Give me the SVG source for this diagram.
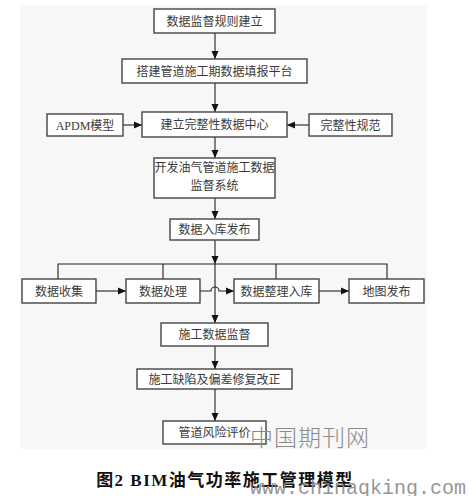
<svg xmlns="http://www.w3.org/2000/svg" width="476" height="496" viewBox="0 0 476 496">
<defs>
<marker id="ah" markerUnits="userSpaceOnUse" markerWidth="8" markerHeight="8" viewBox="0 0 8 8" refX="8" refY="4" orient="auto">
<path d="M0,0.5 L8,4 L0,7.5 Z" fill="#111"/>
</marker>
<style>
.box{fill:#fff;stroke:#444;stroke-width:1.4}
.t{font-family:"Liberation Serif","Noto Sans CJK SC",serif;font-size:12px;fill:#3a3a3a;text-anchor:middle}
.ln{fill:none;stroke:#222;stroke-width:1.1}
.arr{fill:none;stroke:#222;stroke-width:1.1;marker-end:url(#ah)}
</style>
</defs>
<rect x="0" y="0" width="476" height="496" fill="#fff"/>
<rect x="20" y="5" width="407" height="444" fill="#f7f7f7"/>
<g id="connectors">
<line class="arr" x1="215" y1="33" x2="215" y2="59"/>
<line class="arr" x1="215" y1="83" x2="215" y2="112"/>
<line class="arr" x1="123" y1="125" x2="142" y2="125"/>
<line class="arr" x1="309" y1="125" x2="287" y2="125"/>
<line class="arr" x1="215" y1="137" x2="215" y2="158"/>
<line class="arr" x1="215" y1="198" x2="215" y2="219"/>
<line class="arr" x1="215" y1="240" x2="215" y2="264"/>
<path class="ln" d="M58,279 V264 H387 V279 M163,264 V279 M276,264 V279"/>
<line class="arr" x1="215" y1="264" x2="215" y2="323"/>
<line class="arr" x1="96" y1="291" x2="126" y2="291"/>
<path class="arr" d="M200,291 H211 A4,4 0 0 1 219,291 H234"/>
<line class="arr" x1="319" y1="291" x2="349" y2="291"/>
<line class="arr" x1="215" y1="346" x2="215" y2="369"/>
<line class="arr" x1="215" y1="389" x2="215" y2="421"/>
</g>
<g id="n1"><rect class="box" x="154" y="9" width="121" height="24"/><text class="t" x="214.5" y="25.5">数据监督规则建立</text></g>
<g id="n2"><rect class="box" x="122" y="59" width="185" height="24"/><text class="t" x="214.5" y="75.5">搭建管道施工期数据填报平台</text></g>
<g id="n3"><rect class="box" x="142" y="112" width="145" height="25"/><text class="t" x="214.5" y="129">建立完整性数据中心</text></g>
<g id="nA"><rect class="box" x="47" y="114" width="76" height="22"/><text class="t" x="85" y="129.5">APDM模型</text></g>
<g id="nB"><rect class="box" x="309" y="114" width="83" height="22"/><text class="t" x="350.5" y="129.5">完整性规范</text></g>
<g id="n4"><rect class="box" x="154" y="158" width="121" height="40"/><text class="t" x="214.5" y="172">开发油气管道施工数据</text><text class="t" x="214.5" y="190">监督系统</text></g>
<g id="n5"><rect class="box" x="170" y="219" width="89" height="21"/><text class="t" x="214.5" y="234">数据入库发布</text></g>
<g id="r1"><rect class="box" x="22" y="279" width="74" height="24"/><text class="t" x="59" y="295.5">数据收集</text></g>
<g id="r2"><rect class="box" x="126" y="279" width="74" height="24"/><text class="t" x="163" y="295.5">数据处理</text></g>
<g id="r3"><rect class="box" x="234" y="279" width="85" height="24"/><text class="t" x="276.5" y="295.5">数据整理入库</text></g>
<g id="r4"><rect class="box" x="349" y="279" width="75" height="24"/><text class="t" x="386.5" y="295.5">地图发布</text></g>
<g id="n6"><rect class="box" x="161" y="323" width="107" height="23"/><text class="t" x="214.5" y="339">施工数据监督</text></g>
<g id="n7"><rect class="box" x="137" y="369" width="155" height="20"/><text class="t" x="214.5" y="383.5">施工缺陷及偏差修复改正</text></g>
<g id="n8"><rect class="box" x="163" y="421" width="103" height="23"/><text class="t" x="214.5" y="437">管道风险评价</text></g>
<text x="310" y="446" font-family="'Noto Sans CJK SC',sans-serif" font-size="23" font-weight="300" fill="#8a8a8a" text-anchor="middle" letter-spacing="1">中国期刊网</text>
<text x="225" y="486" font-family="'Liberation Serif','Noto Sans CJK SC',serif" font-size="17" font-weight="bold" fill="#111" text-anchor="middle" letter-spacing="1.5">图2 BIM油气功率施工管理模型</text>
<text x="250" y="494" font-family="'Liberation Mono',monospace" font-size="20" fill="#888" fill-opacity="0.9">www.chinaqking.com</text>
</svg>
